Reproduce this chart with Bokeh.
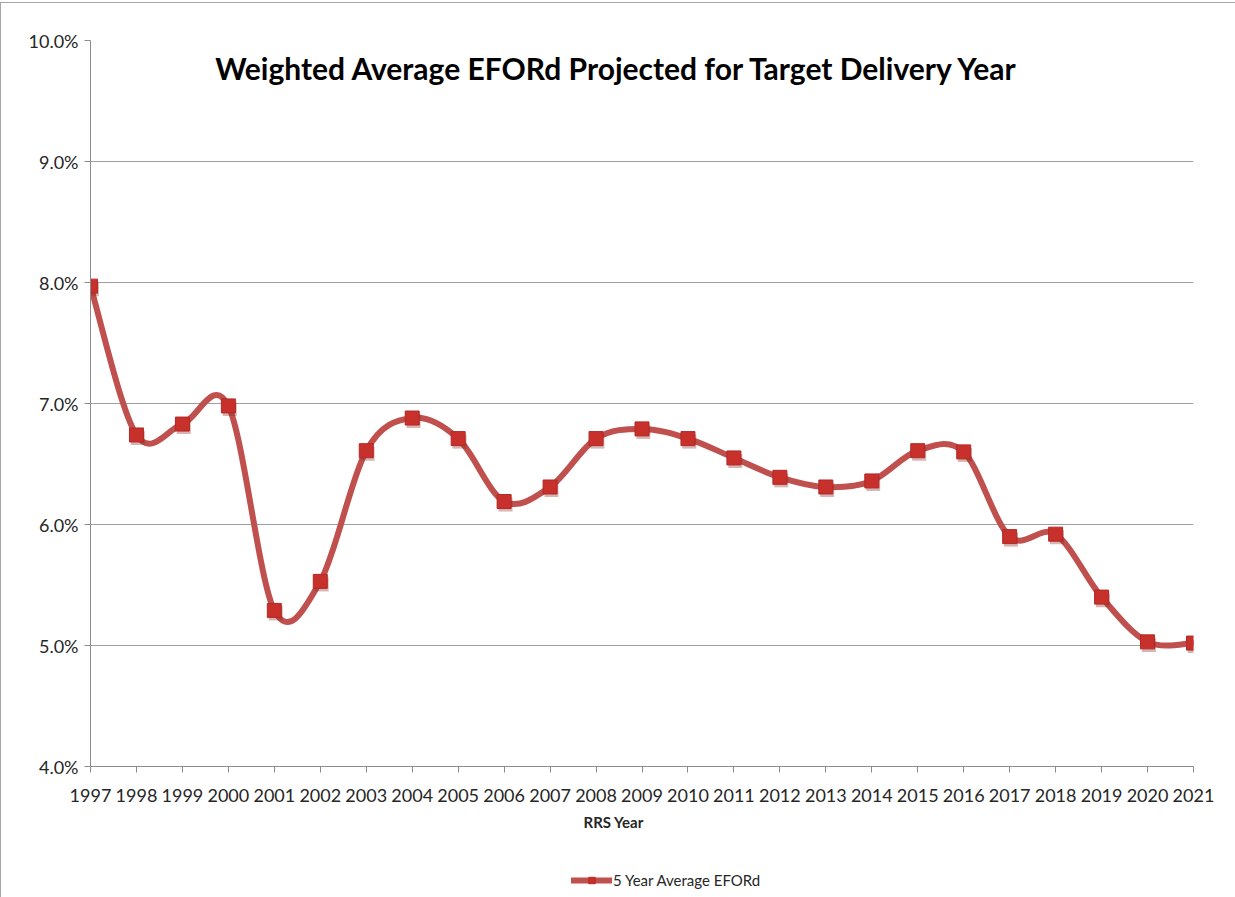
from bokeh.plotting import figure
from bokeh.layouts import column
from bokeh.embed import file_html
from bokeh.resources import INLINE
from bokeh.models import (Label, Legend, LegendItem, FixedTicker, Title,
                          CustomJSTickFormatter, Range1d, ColumnDataSource)

# ---- data ----
years = [1997, 1998, 1999, 2000, 2001, 2002, 2003, 2004, 2005, 2006, 2007, 2008,
         2009, 2010, 2011, 2012, 2013, 2014, 2015, 2016, 2017, 2018, 2019, 2020, 2021]
eford = [7.97, 6.74, 6.83, 6.98, 5.29, 5.53, 6.61, 6.88, 6.71, 6.19, 6.31, 6.71,
         6.79, 6.71, 6.55, 6.39, 6.31, 6.36, 6.61, 6.60, 5.90, 5.92, 5.40, 5.03, 5.02]
series_name = "5 Year Average EFORd"
title_text = "Weighted Average EFORd Projected for Target Delivery Year"
x_title = "RRS Year"
y_ticks = [4.0, 5.0, 6.0, 7.0, 8.0, 9.0, 10.0]

FONT = "Lato"
LINE_COLOR = "#c0504d"
MARK_FILL = "#c8302c"
MARK_LINE = "#b02a26"

p = figure(width=1234, height=860, output_backend="svg", toolbar_location=None,
           x_range=Range1d(1997, 2021), y_range=Range1d(4.0, 10.0),
           min_border_left=89, min_border_right=42, min_border_top=37,
           min_border_bottom=97, background_fill_color="white",
           border_fill_color="white", outline_line_color=None)

# axes
p.xaxis.ticker = FixedTicker(ticks=years)
p.xaxis.formatter = CustomJSTickFormatter(code="return tick.toFixed(0);")
p.yaxis.ticker = FixedTicker(ticks=y_ticks)
p.yaxis.formatter = CustomJSTickFormatter(code="return tick.toFixed(1) + '%';")
for ax in (p.xaxis, p.yaxis):
    ax.axis_line_color = "#8c8c8c"
    ax.major_tick_line_color = "#8c8c8c"
    ax.minor_tick_line_color = None
    ax.major_label_text_font = FONT
    ax.major_label_text_font_size = "18px"
    ax.major_label_text_color = "#262626"
p.xaxis.major_tick_out = 6
p.xaxis.major_tick_in = 0
p.yaxis.major_tick_out = 6
p.yaxis.major_tick_in = 0
p.yaxis.major_label_standoff = 6
p.xaxis.major_label_standoff = 16

p.xgrid.grid_line_color = None
p.ygrid.ticker = FixedTicker(ticks=y_ticks)
p.ygrid.grid_line_color = "#a0a0a0"
p.ygrid.grid_line_width = 1

# smoothed line (cubic Bezier segments from the data points)
n = len(years)
x0, y0, x1, y1, cx0, cy0, cx1, cy1 = [], [], [], [], [], [], [], []
for i in range(n - 1):
    pa = i - 1 if i > 0 else i
    pd = i + 2 if i + 2 < n else i + 1
    x0.append(years[i]); y0.append(eford[i])
    x1.append(years[i + 1]); y1.append(eford[i + 1])
    cx0.append(years[i] + (years[i + 1] - years[pa]) / 6.0)
    cy0.append(eford[i] + (eford[i + 1] - eford[pa]) / 6.0)
    cx1.append(years[i + 1] - (years[pd] - years[i]) / 6.0)
    cy1.append(eford[i + 1] - (eford[pd] - eford[i]) / 6.0)
bsrc = ColumnDataSource(dict(x0=x0, y0=y0, x1=x1, y1=y1, cx0=cx0, cy0=cy0, cx1=cx1, cy1=cy1))
p.bezier("x0", "y0", "x1", "y1", "cx0", "cy0", "cx1", "cy1", source=bsrc,
         line_color=LINE_COLOR, line_width=6, line_cap="round")

# shadow-ish markers
p.scatter([y + 0.03 for y in years], [v - 0.025 for v in eford], marker="square", size=14,
          fill_color="#8a2a26", fill_alpha=0.35, line_color=None)
p.scatter(years, eford, marker="square", size=14, fill_color=MARK_FILL,
          line_color=MARK_LINE, line_width=1)

# chart title
p.add_layout(Label(x=2008.47, y=9.77, text=title_text, text_align="center",
                   text_baseline="middle", text_font=FONT, text_font_size="30px",
                   text_font_style="bold", text_color="black"))

# x axis title
p.add_layout(Title(text=x_title, align="left", offset=493, text_font=FONT,
                   text_font_size="15px", text_font_style="bold", text_color="#262626",
                   standoff=12), "below")

# ---- legend strip (same series drawn off-range so only the legend shows) ----
p2 = figure(width=1234, height=34, output_backend="svg", toolbar_location=None,
            x_range=Range1d(0, 1), y_range=Range1d(0, 1),
            x_axis_location=None, y_axis_location=None,
            min_border=0, outline_line_color=None, background_fill_color="white",
            border_fill_color="white")
p2.xgrid.grid_line_color = None
p2.ygrid.grid_line_color = None
lg_line = p2.bezier("x0", "y0", "x1", "y1", "cx0", "cy0", "cx1", "cy1", source=bsrc,
                    line_color=LINE_COLOR, line_width=6, line_cap="round")
lg_mark = p2.scatter(years, eford, marker="square", size=10, fill_color=MARK_FILL,
                     line_color=MARK_LINE, line_width=1)
legend = Legend(items=[LegendItem(label=series_name, renderers=[lg_line, lg_mark])],
                location=(481, 8), orientation="horizontal",
                label_text_font=FONT, label_text_font_size="15px", label_text_color="#262626",
                glyph_width=41, glyph_height=16, border_line_color=None,
                background_fill_alpha=0, padding=0, margin=0, label_standoff=1)
p2.add_layout(legend, "center")

layout = column(p, p2, spacing=0)
layout.styles = {"border-left": "1px solid #a6a6a6", "border-top": "1px solid #a6a6a6",
                 "margin-top": "2px"}

open("out.html", "w").write(file_html(layout, INLINE))
